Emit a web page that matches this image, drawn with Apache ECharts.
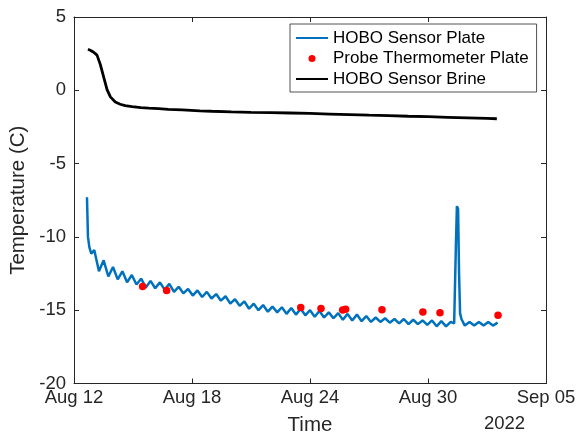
<!DOCTYPE html>
<html>
<head>
<meta charset="utf-8">
<script src="https://cdn.jsdelivr.net/npm/echarts@6/dist/echarts.min.js"></script>
<style>
  html, body { margin: 0; padding: 0; background: #fff; }
  #chart { width: 579px; height: 437px; }
</style>
</head>
<body>
<div id="chart"></div>
<script>
// x values are days counted from Aug 12 2022 00:00
var startDate = Date.UTC(2022, 7, 12);
var monthNames = ['Jan', 'Feb', 'Mar', 'Apr', 'May', 'Jun', 'Jul', 'Aug', 'Sep', 'Oct', 'Nov', 'Dec'];
var yearLabel = '2022';

// HOBO plate sensor: first drop, then regular readings, then the short spike
var plateHeadDays = [0.66, 0.71, 0.78, 0.88];
var plateHeadTemp = [-7.3, -10.0, -10.7, -11.15];
var plateStartDay = 1.03;
var plateStepDays = 0.2385;
var plateTemp = [
  -10.9, -12.35, -11.6, -12.7, -12.05, -12.9, -12.35, -13.1, -12.6, -13.25,
  -12.85, -13.45, -13.0, -13.5, -13.1, -13.6, -13.2, -13.75, -13.4, -13.85,
  -13.55, -14.0, -13.65, -14.1, -13.75, -14.2, -13.9, -14.35, -14.05, -14.55,
  -14.25, -14.7, -14.4, -14.9, -14.55, -15.0, -14.65, -15.1, -14.75, -15.15,
  -14.8, -15.25, -14.85, -15.3, -14.9, -15.35, -15.0, -15.45, -15.05, -15.5,
  -15.15, -15.55, -15.2, -15.65, -15.25, -15.7, -15.3, -15.75, -15.4, -15.8,
  -15.5, -15.8, -15.55, -15.85, -15.6, -15.9, -15.6, -15.95, -15.65, -15.95,
  -15.7, -16.0, -15.7, -16.1, -15.75, -16.1, -15.8, -16.05, -15.8, -16.05,
  -15.8, -16.05, -15.8, -16.05, -15.8, -16.05, -15.85
];
var spikeDays = [19.33, 19.42, 19.47, 19.53, 19.58, 19.63, 19.7];
var spikeTemp = [-15.9, -10.5, -7.9, -8.1, -12.5, -15.2, -15.6];

// probe thermometer readings
var probeDays = [3.49, 4.71, 11.53, 12.56, 13.66, 13.81, 15.66, 17.74, 18.61, 21.56];
var probeTemp = [-13.39, -13.66, -14.82, -14.88, -14.99, -14.93, -14.97, -15.13, -15.18, -15.35];

// HOBO brine sensor
var brineDays = [0.71, 0.85, 1.0, 1.17, 1.34, 1.51, 1.68, 1.85, 2.1, 2.35, 2.6, 2.95, 3.4, 3.8, 4.3, 4.8,
  5.5, 6.4, 7.0, 8.0, 9.0, 10.0, 11.0, 12.0, 13.0, 14.0, 15.0, 16.0, 17.0, 18.0, 19.0, 20.0, 21.0, 21.5];
var brineTemp = [2.8, 2.72, 2.6, 2.4, 1.75, 0.9, 0.05, -0.45, -0.8, -0.95, -1.05, -1.12, -1.18, -1.22, -1.25, -1.3,
  -1.34, -1.4, -1.43, -1.47, -1.5, -1.52, -1.55, -1.58, -1.62, -1.66, -1.7, -1.73, -1.77, -1.8, -1.84, -1.88, -1.92, -1.94];

var fontName = '"Liberation Sans", Helvetica, Arial, sans-serif';
var axisColor = '#262626';

function dayLabel(v) {
  var d = new Date(startDate + v * 86400000);
  var dd = d.getUTCDate();
  return monthNames[d.getUTCMonth()] + ' ' + (dd < 10 ? '0' + dd : dd);
}

// build the plate series, spike replaces the regular readings it overlaps
var plateData = [];
for (var i = 0; i < plateHeadDays.length; i++) {
  plateData.push([plateHeadDays[i], plateHeadTemp[i]]);
}
for (var i = 0; i < plateTemp.length; i++) {
  var day = plateStartDay + plateStepDays * i;
  if (day > spikeDays[0] - 0.02 && day < spikeDays[spikeDays.length - 1] + 0.02) continue;
  plateData.push([day, plateTemp[i]]);
}
for (var i = 0; i < spikeDays.length; i++) {
  plateData.push([spikeDays[i], spikeTemp[i]]);
}
plateData.sort(function (a, b) { return a[0] - b[0]; });

var probeData = [];
for (var i = 0; i < probeDays.length; i++) {
  probeData.push([probeDays[i], probeTemp[i]]);
}
var brineData = [];
for (var i = 0; i < brineDays.length; i++) {
  brineData.push([brineDays[i], brineTemp[i]]);
}

function frameAxis(pos, min, max, interval) {
  return {
    type: 'value',
    position: pos,
    min: min,
    max: max,
    interval: interval,
    axisLine: { show: true, onZero: false, lineStyle: { color: axisColor, width: 1 } },
    axisTick: { show: true, inside: true, length: 5, lineStyle: { color: axisColor, width: 1 } },
    axisLabel: { show: false },
    splitLine: { show: false }
  };
}

var myChart = echarts.init(document.getElementById('chart'));

var xBottom = frameAxis('bottom', 0, 24, 6);
xBottom.axisLabel = {
  show: true, formatter: dayLabel, margin: 5, showMinLabel: true, showMaxLabel: true,
  fontSize: 18.5, color: axisColor, fontFamily: fontName
};
xBottom.name = 'Time';
xBottom.nameLocation = 'middle';
xBottom.nameGap = 31;
xBottom.nameTextStyle = { fontSize: 20.5, color: axisColor, fontFamily: fontName };

var yLeft = frameAxis('left', -20, 5, 5);
yLeft.axisLabel = {
  show: true, margin: 8, showMinLabel: true, showMaxLabel: true,
  fontSize: 18.5, color: axisColor, fontFamily: fontName
};
yLeft.name = 'Temperature (C)';
yLeft.nameLocation = 'middle';
yLeft.nameGap = 39;
yLeft.nameTextStyle = { fontSize: 20.5, color: axisColor, fontFamily: fontName };

var option = {
  animation: false,
  backgroundColor: '#fff',
  grid: { left: 74, right: 33, top: 17, bottom: 53.5, containLabel: false, outerBoundsMode: 'none' },
  xAxis: [xBottom, frameAxis('top', 0, 24, 6)],
  yAxis: [yLeft, frameAxis('right', -20, 5, 5)],
  legend: {
    orient: 'vertical',
    left: 290,
    top: 24,
    itemWidth: 32,
    itemHeight: 7,
    itemGap: 0.5,
    padding: [4, 8, 3, 5],
    backgroundColor: '#fff',
    borderColor: axisColor,
    borderWidth: 0.8,
    borderRadius: 0,
    textStyle: { fontSize: 17, lineHeight: 20, color: '#000', fontFamily: fontName },
    data: [
      { name: 'HOBO Sensor Plate', itemStyle: { opacity: 0 }, lineStyle: { color: '#0072BD', width: 2, opacity: 1 } },
      { name: 'Probe Thermometer Plate', icon: 'circle' },
      { name: 'HOBO Sensor Brine', itemStyle: { opacity: 0 }, lineStyle: { color: '#000', width: 2, opacity: 1 } }
    ]
  },
  graphic: [{
    type: 'text',
    left: 484,
    top: 414,
    style: { text: yearLabel, fontSize: 18.5, fill: axisColor, fontFamily: fontName }
  }],
  series: [
    {
      name: 'HOBO Sensor Plate',
      type: 'line',
      data: plateData,
      symbol: 'none',
      lineStyle: { color: '#0072BD', width: 2.5 },
      itemStyle: { color: '#0072BD' },
      z: 2
    },
    {
      name: 'Probe Thermometer Plate',
      type: 'scatter',
      data: probeData,
      symbolSize: 7.5,
      itemStyle: { color: '#FF0000', opacity: 1 },
      z: 4
    },
    {
      name: 'HOBO Sensor Brine',
      type: 'line',
      data: brineData,
      symbol: 'none',
      lineStyle: { color: '#000', width: 2.8 },
      itemStyle: { color: '#000' },
      z: 3
    }
  ]
};

myChart.setOption(option);
</script>
</body>
</html>
